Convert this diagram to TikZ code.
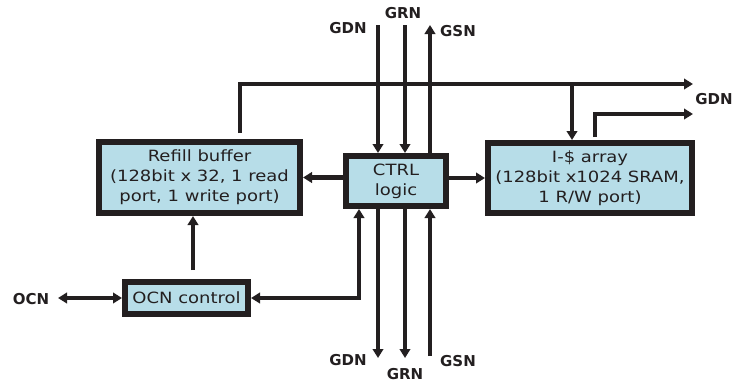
\documentclass[tikz,border=0pt]{standalone}
\usepackage{fontspec}
\setmainfont{DejaVu Sans}
\newfontfamily\blockfont[FakeStretch=1.16]{DejaVu Sans}
\usetikzlibrary{arrows.meta}
\definecolor{ink}{RGB}{35,31,32}
\definecolor{boxfill}{RGB}{183,221,232}
\tikzset{
  block/.style={draw=ink, fill=boxfill, line width=6pt, text=ink, align=center,
    inner sep=0pt, font=\blockfont\fontsize{15.5}{20}\selectfont},
  wire/.style={draw=ink, line width=4.5pt, line join=miter,
    -{Triangle[length=9pt,width=10.5pt]}},
  bothwire/.style={draw=ink, line width=4.5pt, line join=miter,
    {Triangle[length=9pt,width=10.5pt]}-{Triangle[length=9pt,width=10.5pt]}},
  netlabel/.style={text=ink, font=\fontsize{15}{18}\selectfont\bfseries, inner sep=0pt}
}
\begin{document}
\begin{tikzpicture}[x=1pt,y=-1pt]
\useasboundingbox (0,0) rectangle (735,383);

% functional blocks
\node[block, minimum width=201pt, minimum height=71pt] (refill) at (199.5,177.5)
  {Refill buffer\\(128bit x 32, 1 read\\port, 1 write port)};
\node[block, minimum width=100pt, minimum height=50pt] (ctrl) at (396,181)
  {CTRL\\logic};
\node[block, minimum width=204pt, minimum height=70pt] (icache) at (590,178)
  {I-\$ array\\(128bit x1024 SRAM,\\1 R/W port)};
\node[block, minimum width=123pt, minimum height=32pt] (ocnctl) at (186.5,298)
  {OCN control};

% free ends of the network wires
\coordinate (gdnIn)   at (378,25);
\coordinate (grnIn)   at (405,25);
\coordinate (gsnOut)  at (430,25);
\coordinate (gdnOut)  at (378,358);
\coordinate (grnOut)  at (405,358);
\coordinate (gsnIn)   at (430,356);
\coordinate (ocnEnd)  at (58,298);
\coordinate (ocnBend) at (359,298);
\coordinate (ocnUp)   at (193,270);
\coordinate (busFoot) at (240,133);
\coordinate (busCorner) at (240,84);
\coordinate (busEnd)  at (693,84);
\coordinate (busTap)  at (572,84);
\coordinate (outFoot) at (595,137);
\coordinate (outCorner) at (595,114);
\coordinate (outEnd)  at (693,114);

% networks entering and leaving the control logic
\draw[wire] (gdnIn) -- (gdnIn |- ctrl.north);
\draw[wire] (grnIn) -- (grnIn |- ctrl.north);
\draw[wire] (gsnOut |- ctrl.north) -- (gsnOut);
\draw[wire] (gdnOut |- ctrl.south) -- (gdnOut);
\draw[wire] (grnOut |- ctrl.south) -- (grnOut);
\draw[wire] (gsnIn) -- (gsnIn |- ctrl.south);

% control logic to the arrays
\draw[wire] (ctrl.west |- refill.east) -- (refill.east);
\draw[wire] (ctrl.east |- icache.west) -- (icache.west);

% OCN path
\draw[bothwire] (ocnEnd) -- (ocnctl.west);
\draw[bothwire] (ocnctl.east) -- (ocnBend) -- (ocnBend |- ctrl.south);
\draw[wire] (ocnUp) -- (ocnUp |- refill.south);

% GDN bus from the refill buffer
\draw[wire] (busFoot) -- (busCorner) -- (busEnd);
\draw[wire] (busTap) -- (busTap |- icache.north);
\draw[wire] (outFoot) -- (outCorner) -- (outEnd);

% network labels
\node[netlabel] (lGDNt) at (348,28) {GDN};
\node[netlabel] (lGRNt) at (403,13) {GRN};
\node[netlabel] (lGSNt) at (458,31) {GSN};
\node[netlabel] (lGDNr) at (714,99) {GDN};
\node[netlabel] (lGDNb) at (348,360) {GDN};
\node[netlabel] (lGRNb) at (405,374) {GRN};
\node[netlabel] (lGSNb) at (458,361) {GSN};
\node[netlabel] (lOCN)  at (31,299) {OCN};
\end{tikzpicture}
\end{document}
